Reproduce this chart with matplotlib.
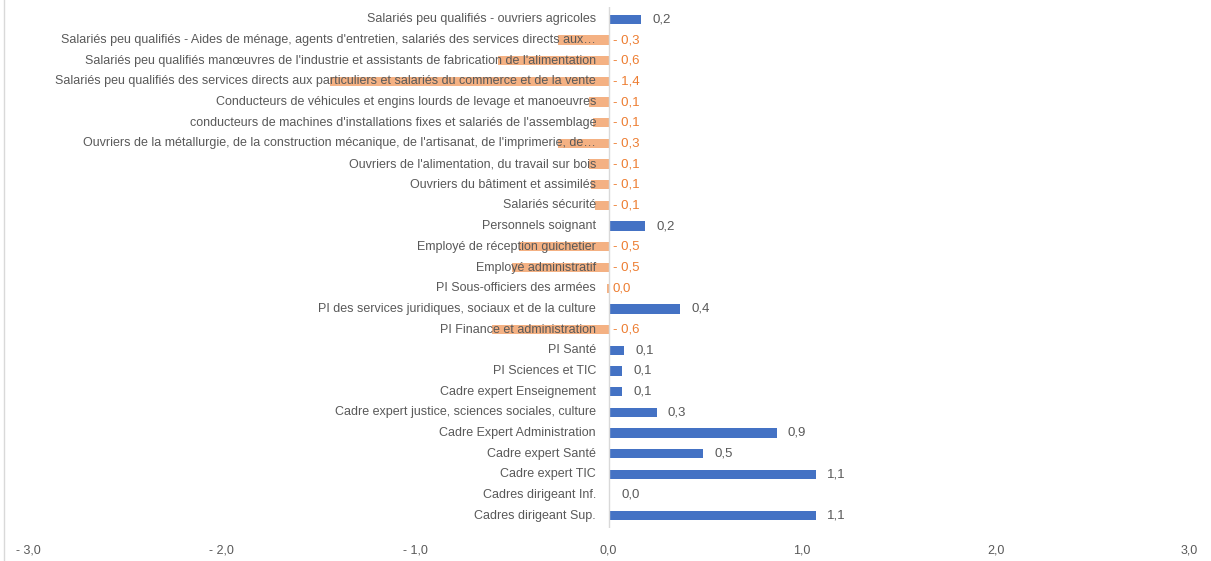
import matplotlib
matplotlib.use("Agg")
import matplotlib.pyplot as plt
from matplotlib.lines import Line2D

categories = [
    "Salariés peu qualifiés - ouvriers agricoles",
    "Salariés peu qualifiés - Aides de ménage, agents d'entretien, salariés des services directs aux…",
    "Salariés peu qualifiés manœuvres de l'industrie et assistants de fabrication de l'alimentation",
    "Salariés peu qualifiés des services directs aux particuliers et salariés du commerce et de la vente",
    "Conducteurs de véhicules et engins lourds de levage et manoeuvres",
    "conducteurs de machines d'installations fixes et salariés de l'assemblage",
    "Ouvriers de la métallurgie, de la construction mécanique, de l'artisanat, de l'imprimerie, de…",
    "Ouvriers de l'alimentation, du travail sur bois",
    "Ouvriers du bâtiment et assimilés",
    "Salariés sécurité",
    "Personnels soignant",
    "Employé de réception guichetier",
    "Employé administratif",
    "PI Sous-officiers des armées",
    "PI des services juridiques, sociaux et de la culture",
    "PI Finance et administration",
    "PI Santé",
    "PI Sciences et TIC",
    "Cadre expert Enseignement",
    "Cadre expert justice, sciences sociales, culture",
    "Cadre Expert Administration",
    "Cadre expert Santé",
    "Cadre expert TIC",
    "Cadres dirigeant Inf.",
    "Cadres dirigeant Sup.",
]
values = [0.17, -0.26, -0.57, -1.44, -0.10, -0.08, -0.26, -0.10, -0.09, -0.07,
          0.19, -0.46, -0.50, -0.01, 0.37, -0.60, 0.08, 0.07, 0.07, 0.25,
          0.87, 0.49, 1.07, 0.01, 1.07]
value_labels = ["0,2", "- 0,3", "- 0,6", "- 1,4", "- 0,1", "- 0,1", "- 0,3", "- 0,1", "- 0,1", "- 0,1",
                "0,2", "- 0,5", "- 0,5", "0,0", "0,4", "- 0,6", "0,1", "0,1", "0,1", "0,3",
                "0,9", "0,5", "1,1", "0,0", "1,1"]
x_ticks = [-3, -2, -1, 0, 1, 2, 3]
x_tick_labels = ["- 3,0", "- 2,0", "- 1,0", "0,0", "1,0", "2,0", "3,0"]

BLUE = "#4472C4"
ORANGE = "#F4B183"
ORANGE_TXT = "#ED7D31"
GRAY = "#595959"

plt.rcParams["font.family"] = ["Liberation Sans", "DejaVu Sans"]

fig = plt.figure(figsize=(12.11, 5.61), dpi=100)
ax = fig.add_axes([28 / 1211, 1 - 528 / 561, (1189 - 28) / 1211, (528 - 7) / 561])

n = len(categories)
ypos = list(range(n - 1, -1, -1))
colors = [BLUE if v > 0 else ORANGE for v in values]
ax.barh(ypos, values, height=0.45, color=colors, zorder=1)

ax.set_xlim(-3, 3)
ax.set_ylim(-0.6, n - 0.4)
ax.set_xticks(x_ticks)
ax.set_xticklabels(x_tick_labels, color=GRAY, fontsize=9)
ax.tick_params(axis="x", length=0, pad=12)
ax.set_yticks([])
for s in ["top", "right", "bottom", "left"]:
    ax.spines[s].set_visible(False)
ax.axvline(0, color="#D9D9D9", lw=1, zorder=2)

# category names sit just left of the zero line, value labels right of the bar / axis
for y, cat, v, lab in zip(ypos, categories, values, value_labels):
    ax.annotate(cat, xy=(0, y), xytext=(-9, 0), textcoords="offset points",
                ha="right", va="center", fontsize=9, color=GRAY, zorder=3)
    if v > 0:
        ax.annotate(lab, xy=(v, y), xytext=(8, 0), textcoords="offset points",
                    ha="left", va="center", fontsize=9.5, color=GRAY)
    else:
        ax.annotate(lab, xy=(0, y), xytext=(3, 0), textcoords="offset points",
                    ha="left", va="center", fontsize=9.5, color=ORANGE_TXT)

fig.add_artist(Line2D([4 / 1211, 4 / 1211], [0, 1], color="#D9D9D9", lw=1))

fig.savefig("out.png", dpi=100)
